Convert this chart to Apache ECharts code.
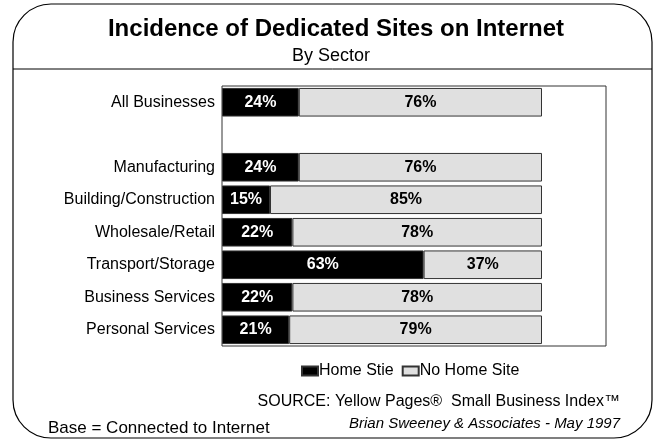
<!DOCTYPE html>
<html>
<head>
<meta charset="utf-8">
<script src="https://cdn.jsdelivr.net/npm/echarts@6/dist/echarts.min.js"></script>
<style>
  html, body { margin: 0; padding: 0; background: #fff; }
  #chart { width: 661px; height: 441px; }
</style>
</head>
<body>
<div id="chart"></div>
<script>
// Sectors (the blank entry leaves a gap under the overall row)
var sectors = ['All Businesses', '', 'Manufacturing', 'Building/Construction',
  'Wholesale/Retail', 'Transport/Storage', 'Business Services', 'Personal Services'];
// Share of connected businesses with / without a dedicated site (%)
var homeSite = [24, null, 24, 15, 22, 63, 22, 21];
var noHomeSite = [76, null, 76, 85, 78, 37, 78, 79];
var seriesNames = ['Home Stie', 'No Home Site'];

var FONT = '"Liberation Sans", Arial, sans-serif';
var chart = echarts.init(document.getElementById('chart'), null, { renderer: 'canvas' });

function pctLabel(color) {
  return {
    show: true,
    position: 'inside',
    formatter: function (p) { return p.value == null ? '' : p.value + '%'; },
    color: color,
    fontFamily: FONT,
    fontWeight: 'bold',
    fontSize: 16
  };
}

chart.setOption({
  animation: false,
  backgroundColor: '#fff',
  grid: {
    left: 222, top: 86, width: 384, height: 260,
    show: true, borderColor: '#333', borderWidth: 1, backgroundColor: 'transparent'
  },
  xAxis: {
    type: 'value', min: 0, max: 120,
    show: false
  },
  yAxis: {
    type: 'category',
    data: sectors,
    inverse: true,
    axisLine: { show: false },
    axisTick: { show: false },
    axisLabel: { color: '#000', fontFamily: FONT, fontSize: 16, margin: 7 }
  },
  legend: {
    data: seriesNames,
    left: 296, top: 358,
    icon: 'rect',
    itemWidth: 16, itemHeight: 9,
    itemGap: 8,
    textStyle: { color: '#000', fontFamily: FONT, fontSize: 16, padding: [0, 0, 0, -4] }
  },
  series: [
    {
      name: seriesNames[0], type: 'bar', stack: 'all',
      data: homeSite,
      barCategoryGap: '12%',
      itemStyle: { color: '#000', borderColor: '#333', borderWidth: 1 },
      label: pctLabel('#fff')
    },
    {
      name: seriesNames[1], type: 'bar', stack: 'all',
      data: noHomeSite,
      barCategoryGap: '12%',
      itemStyle: { color: '#e0e0e0', borderColor: '#333', borderWidth: 1 },
      label: pctLabel('#000')
    }
  ],
  graphic: [
    { type: 'rect', shape: { x: 13, y: 4, width: 639, height: 434, r: 38 },
      style: { fill: 'none', stroke: '#000', lineWidth: 1.2 }, z: 100 },
    { type: 'line', shape: { x1: 13, y1: 69, x2: 652, y2: 69 },
      style: { stroke: '#000', lineWidth: 1 }, z: 100 },
    { type: 'text', x: 336, y: 29, z: 100,
      style: { text: 'Incidence of Dedicated Sites on Internet', fill: '#000',
        font: 'bold 24px ' + FONT, textAlign: 'center', textVerticalAlign: 'middle' } },
    { type: 'text', x: 331, y: 56, z: 100,
      style: { text: 'By Sector', fill: '#000',
        font: '18px ' + FONT, textAlign: 'center', textVerticalAlign: 'middle' } },
    { type: 'text', x: 620, y: 402, z: 100,
      style: { text: 'SOURCE: Yellow Pages\u00AE  Small Business Index\u2122', fill: '#000',
        font: '16px ' + FONT, textAlign: 'right', textVerticalAlign: 'middle' } },
    { type: 'text', x: 620, y: 424, z: 100,
      style: { text: 'Brian Sweeney & Associates - May 1997', fill: '#000',
        font: 'italic 15px ' + FONT, textAlign: 'right', textVerticalAlign: 'middle' } },
    { type: 'text', x: 48, y: 428, z: 100,
      style: { text: 'Base = Connected to Internet', fill: '#000',
        font: '17px ' + FONT, textAlign: 'left', textVerticalAlign: 'middle' } }
  ]
});
</script>
</body>
</html>
